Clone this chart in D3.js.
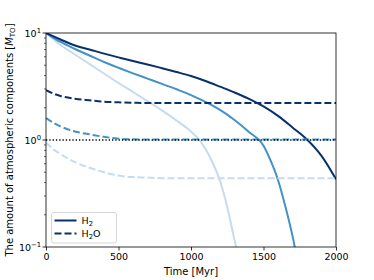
<!DOCTYPE html>
<html>
<head>
<meta charset="utf-8">
<script src="https://cdn.jsdelivr.net/npm/d3@7"></script>
<style>
  html, body { margin: 0; padding: 0; background: #fff; }
  svg { display: block; font-family: "DejaVu Sans", sans-serif; }
</style>
</head>
<body>
<svg id="chart" width="374" height="280"></svg>
<script>
// ---- data ----
const xTicks = [0, 500, 1000, 1500, 2000];
const yTicks = [0.1, 1, 10];
const yTickExp = ["−1", "0", "1"];

const tDarkH2 = [0, 100, 200, 300, 400, 500, 600, 700, 800, 900, 1000, 1100, 1200, 1300, 1400, 1500, 1600, 1700, 1800, 1900, 2000];
const vDarkH2 = [10, 8.70, 7.64, 7.01, 6.42, 5.92, 5.47, 5.08, 4.69, 4.32, 3.96, 3.56, 3.15, 2.78, 2.42, 2.06, 1.68, 1.31, 1.01, 0.71, 0.43];

const tMidH2 = [0, 100, 200, 300, 400, 500, 600, 700, 800, 900, 1000, 1100, 1200, 1300, 1400, 1500, 1550, 1600, 1650, 1700, 1717, 1750];
const vMidH2 = [10, 8.24, 7.09, 6.16, 5.36, 4.73, 4.20, 3.75, 3.35, 2.98, 2.63, 2.27, 1.91, 1.54, 1.19, 0.883, 0.637, 0.423, 0.242, 0.127, 0.098, 0.055];

const tLightH2 = [0, 100, 200, 300, 400, 500, 600, 700, 800, 900, 1000, 1050, 1100, 1150, 1200, 1250, 1300, 1315, 1340];
const vLightH2 = [10, 7.73, 6.30, 5.13, 4.18, 3.41, 2.81, 2.31, 1.89, 1.52, 1.20, 1.03, 0.824, 0.610, 0.414, 0.237, 0.116, 0.094, 0.055];

const tH2O = [0, 50, 100, 200, 300, 400, 500, 600, 700, 800, 1000, 1500, 2000];
const vDarkH2O = [2.93, 2.72, 2.58, 2.43, 2.35, 2.28, 2.25, 2.23, 2.22, 2.22, 2.22, 2.22, 2.22];
const vMidH2O = [1.6, 1.45, 1.34, 1.2, 1.13, 1.07, 1.03, 1.015, 1.01, 1.01, 1.01, 1.01, 1.01];
const vLightH2O = [0.95, 0.82, 0.74, 0.62, 0.55, 0.5, 0.465, 0.45, 0.445, 0.44, 0.44, 0.44, 0.44];

const refLevel = [1, 1];
const refTimes = [0, 2000];

const colors = ["#08306b", "#4292c6", "#c6dbef"];
const legendLabels = ["H2", "H2O"];

// ---- layout ----
const svg = d3.select("#chart");
const L = 46, R = 336, T = 33, B = 247;

const x = d3.scaleLinear().domain([0, 2000]).range([L, R]);
const y = d3.scaleLog().domain([0.1, 10]).range([B, T]);

svg.append("defs").append("clipPath").attr("id", "clip")
  .append("rect").attr("x", L).attr("y", T).attr("width", R - L).attr("height", B - T);

const plot = svg.append("g").attr("clip-path", "url(#clip)");

function line(ts, vs) {
  return d3.line().x((d, i) => x(ts[i])).y(d => y(d)).curve(d3.curveMonotoneX)(vs);
}

const solids = [[tLightH2, vLightH2, colors[2]], [tMidH2, vMidH2, colors[1]], [tDarkH2, vDarkH2, colors[0]]];
const dashes = [[tH2O, vLightH2O, colors[2]], [tH2O, vMidH2O, colors[1]], [tH2O, vDarkH2O, colors[0]]];

solids.forEach(([ts, vs, c]) => {
  plot.append("path").attr("d", line(ts, vs)).attr("fill", "none")
    .attr("stroke", c).attr("stroke-width", 2);
});
dashes.forEach(([ts, vs, c]) => {
  plot.append("path").attr("d", line(ts, vs)).attr("fill", "none")
    .attr("stroke", c).attr("stroke-width", 2).attr("stroke-dasharray", "7,3");
});
plot.append("path").attr("d", d3.line().x((d, i) => x(refTimes[i])).y(d => y(d))(refLevel))
  .attr("fill", "none").attr("stroke", "#000").attr("stroke-width", 1.4)
  .attr("stroke-dasharray", "1.3,2");

// ---- axes ----
const xAxis = d3.axisBottom(x).tickValues(xTicks).tickSize(3.5).tickPadding(2.5).tickFormat(d3.format("d"));
const gx = svg.append("g").attr("transform", `translate(0,${B})`).call(xAxis);
gx.select(".domain").remove();
gx.selectAll("text").attr("font-size", 9.5).attr("fill", "#000").attr("font-family", "DejaVu Sans");
gx.selectAll("line").attr("stroke", "#000").attr("stroke-width", 0.8);

const minor = [];
[0.1, 1].forEach(b => { for (let k = 2; k <= 9; k++) minor.push(b * k); });
const gyMinor = svg.append("g");
gyMinor.selectAll("line").data(minor).join("line")
  .attr("x1", L).attr("x2", L - 2).attr("y1", d => y(d)).attr("y2", d => y(d))
  .attr("stroke", "#000").attr("stroke-width", 0.6);

const gy = svg.append("g");
gy.selectAll("line").data(yTicks).join("line")
  .attr("x1", L).attr("x2", L - 3.5).attr("y1", d => y(d)).attr("y2", d => y(d))
  .attr("stroke", "#000").attr("stroke-width", 0.8);
const yl = gy.selectAll("text").data(yTicks).join("text")
  .attr("x", L - 5).attr("y", d => y(d) + 3.5).attr("text-anchor", "end")
  .attr("font-size", 9.5).attr("fill", "#000");
yl.append("tspan").text("10");
yl.append("tspan").attr("dy", -4).attr("font-size", 6.8).text((d, i) => yTickExp[i]);

// frame
svg.append("rect").attr("x", L).attr("y", T).attr("width", R - L).attr("height", B - T)
  .attr("fill", "none").attr("stroke", "#000").attr("stroke-width", 0.8);

// labels
svg.append("text").attr("x", (L + R) / 2).attr("y", 275).attr("text-anchor", "middle")
  .attr("font-size", 10).attr("fill", "#000").text("Time [Myr]");

const ylab = svg.append("text").attr("transform", `translate(13,${(T + B) / 2}) rotate(-90)`)
  .attr("text-anchor", "middle").attr("font-size", 10).attr("fill", "#000");
ylab.append("tspan").text("The amount of atmospheric components [");
ylab.append("tspan").attr("font-style", "italic").text("M");
ylab.append("tspan").attr("dy", 2).attr("font-size", 7).text("TO");
ylab.append("tspan").attr("dy", -2).text("]");

// legend
const lg = svg.append("g");
lg.append("rect").attr("x", 51.5).attr("y", 212.5).attr("width", 65).attr("height", 30.5)
  .attr("rx", 2.5).attr("fill", "#fff").attr("fill-opacity", 0.8)
  .attr("stroke", "#cccccc").attr("stroke-width", 0.8);
const lgY = [220.5, 233.5];
legendLabels.forEach((lab, i) => {
  lg.append("line").attr("x1", 54.5).attr("x2", 76.5).attr("y1", lgY[i]).attr("y2", lgY[i])
    .attr("stroke", colors[0]).attr("stroke-width", 2)
    .attr("stroke-dasharray", i === 1 ? "7,3" : null);
  const t = lg.append("text").attr("x", 81.5).attr("y", lgY[i] + 3.5)
    .attr("font-size", 9.5).attr("fill", "#000");
  t.append("tspan").text("H");
  t.append("tspan").attr("dy", 2).attr("font-size", 6.8).text("2");
  if (lab === "H2O") t.append("tspan").attr("dy", -2).text("O");
});
</script>
</body>
</html>
